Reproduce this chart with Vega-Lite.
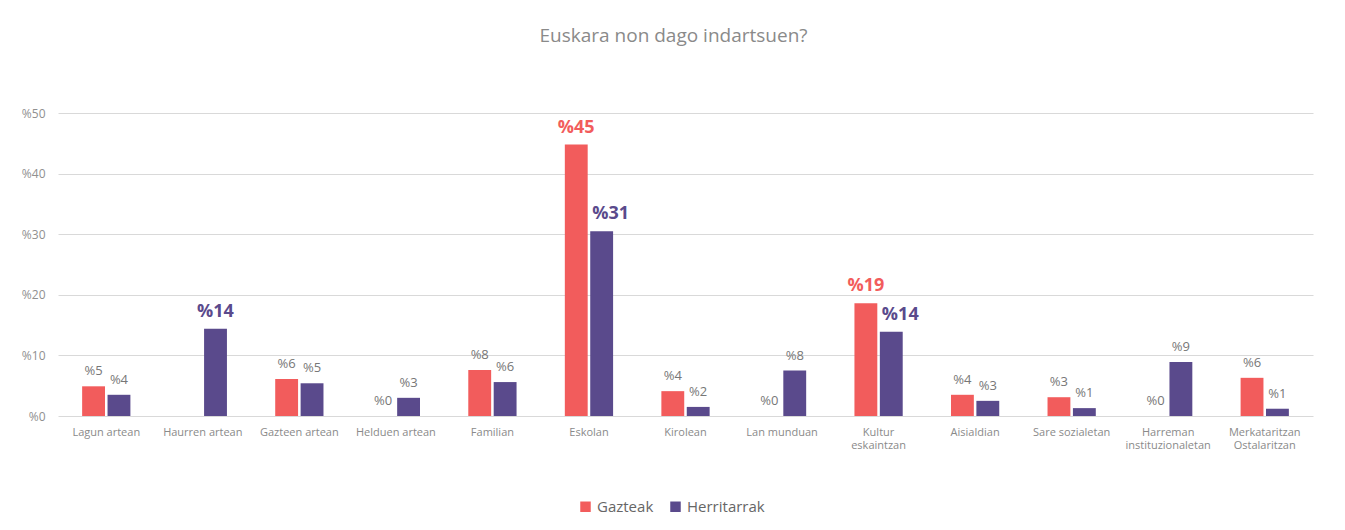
{
  "$schema": "https://vega.github.io/schema/vega-lite/v6.json",
  "autosize": {"type": "none"},
  "padding": {"left": 58, "top": 113, "right": 32, "bottom": 114},
  "width": 1255,
  "height": 303,
  "background": "white",
  "config": {
    "font": "Open Sans",
    "view": {"stroke": null}
  },
  "title": {
    "text": "Euskara non dago indartsuen?",
    "fontSize": 19,
    "fontWeight": "normal",
    "color": "#8a8a8a",
    "offset": 61,
    "dx": -12,
    "anchor": "middle"
  },
  "data": {
    "values": [
      {"category": "Lagun artean", "series": "Gazteak", "value": 4.9},
      {"category": "Lagun artean", "series": "Herritarrak", "value": 3.5},
      {"category": "Haurren artean", "series": "Herritarrak", "value": 14.4},
      {"category": "Gazteen artean", "series": "Gazteak", "value": 6.1},
      {"category": "Gazteen artean", "series": "Herritarrak", "value": 5.4},
      {"category": "Helduen artean", "series": "Gazteak", "value": 0},
      {"category": "Helduen artean", "series": "Herritarrak", "value": 3.0},
      {"category": "Familian", "series": "Gazteak", "value": 7.6},
      {"category": "Familian", "series": "Herritarrak", "value": 5.6},
      {"category": "Eskolan", "series": "Gazteak", "value": 44.8},
      {"category": "Eskolan", "series": "Herritarrak", "value": 30.5},
      {"category": "Kirolean", "series": "Gazteak", "value": 4.1},
      {"category": "Kirolean", "series": "Herritarrak", "value": 1.5},
      {"category": "Lan munduan", "series": "Gazteak", "value": 0},
      {"category": "Lan munduan", "series": "Herritarrak", "value": 7.5},
      {"category": "Kultur eskaintzan", "series": "Gazteak", "value": 18.6},
      {"category": "Kultur eskaintzan", "series": "Herritarrak", "value": 13.9},
      {"category": "Aisialdian", "series": "Gazteak", "value": 3.5},
      {"category": "Aisialdian", "series": "Herritarrak", "value": 2.5},
      {"category": "Sare sozialetan", "series": "Gazteak", "value": 3.1},
      {"category": "Sare sozialetan", "series": "Herritarrak", "value": 1.3},
      {"category": "Harreman instituzionaletan", "series": "Gazteak", "value": 0},
      {"category": "Harreman instituzionaletan", "series": "Herritarrak", "value": 8.9},
      {"category": "Merkataritzan Ostalaritzan", "series": "Gazteak", "value": 6.3},
      {"category": "Merkataritzan Ostalaritzan", "series": "Herritarrak", "value": 1.2}
    ]
  },
  "transform": [
    {"calculate": "'%' + format(datum.value, '.0f')", "as": "label"}
  ],
  "encoding": {
    "x": {
      "field": "category",
      "type": "nominal",
      "sort": null,
      "scale": {"paddingInner": 0.5, "paddingOuter": 0.25},
      "axis": {
        "title": null,
        "labelAngle": 0,
        "labelFontSize": 11,
        "labelColor": "#8a8a8a",
        "labelPadding": 10,
        "ticks": false,
        "domain": false,
        "labelExpr": "datum.label == 'Kultur eskaintzan' ? ['Kultur', 'eskaintzan'] : datum.label == 'Harreman instituzionaletan' ? ['Harreman', 'instituzionaletan'] : datum.label == 'Merkataritzan Ostalaritzan' ? ['Merkataritzan', 'Ostalaritzan'] : datum.label"
      }
    },
    "xOffset": {
      "field": "series",
      "type": "nominal",
      "sort": ["Gazteak", "Herritarrak"],
      "scale": {"paddingInner": 0.1}
    },
    "y": {
      "field": "value",
      "type": "quantitative",
      "scale": {"domain": [0, 50], "nice": false},
      "axis": {
        "title": null,
        "values": [0, 10, 20, 30, 40, 50],
        "labelExpr": "'%' + datum.value",
        "labelFontSize": 12,
        "labelColor": "#909090",
        "labelPadding": 13,
        "ticks": false,
        "domain": false,
        "gridColor": "#d9d9d9",
        "gridWidth": 1
      }
    }
  },
  "layer": [
    {
      "mark": {"type": "bar"},
      "encoding": {
        "color": {
          "field": "series",
          "type": "nominal",
          "sort": ["Gazteak", "Herritarrak"],
          "scale": {"domain": ["Gazteak", "Herritarrak"], "range": ["#F25C5C", "#5A4A8C"]},
          "legend": {
            "title": null,
            "orient": "none",
            "legendX": 520,
            "legendY": 386,
            "direction": "horizontal",
            "symbolType": "square",
            "symbolSize": 110,
            "symbolStrokeWidth": 0,
            "labelFontSize": 15,
            "labelColor": "#666666",
            "columnPadding": 14
          }
        }
      }
    },
    {
      "transform": [{"filter": "datum.value < 13"}],
      "mark": {"type": "text", "baseline": "alphabetic", "dy": -11, "fontSize": 13, "color": "#777777"},
      "encoding": {"text": {"field": "label"}}
    },
    {
      "transform": [{"filter": "datum.value >= 13 && (datum.series == 'Gazteak' || datum.category == 'Haurren artean')"}],
      "mark": {"type": "text", "baseline": "alphabetic", "dy": -12, "fontSize": 18, "fontWeight": "bold"},
      "encoding": {
        "text": {"field": "label"},
        "color": {
          "field": "series",
          "type": "nominal",
          "scale": {"domain": ["Gazteak", "Herritarrak"], "range": ["#F25C5C", "#5A4A8C"]},
          "legend": null
        }
      }
    },
    {
      "transform": [{"filter": "datum.value >= 13 && datum.series == 'Herritarrak' && datum.category != 'Haurren artean'"}],
      "mark": {"type": "text", "baseline": "alphabetic", "dy": -12, "dx": 9, "fontSize": 18, "fontWeight": "bold", "color": "#5A4A8C"},
      "encoding": {"text": {"field": "label"}}
    }
  ]
}
